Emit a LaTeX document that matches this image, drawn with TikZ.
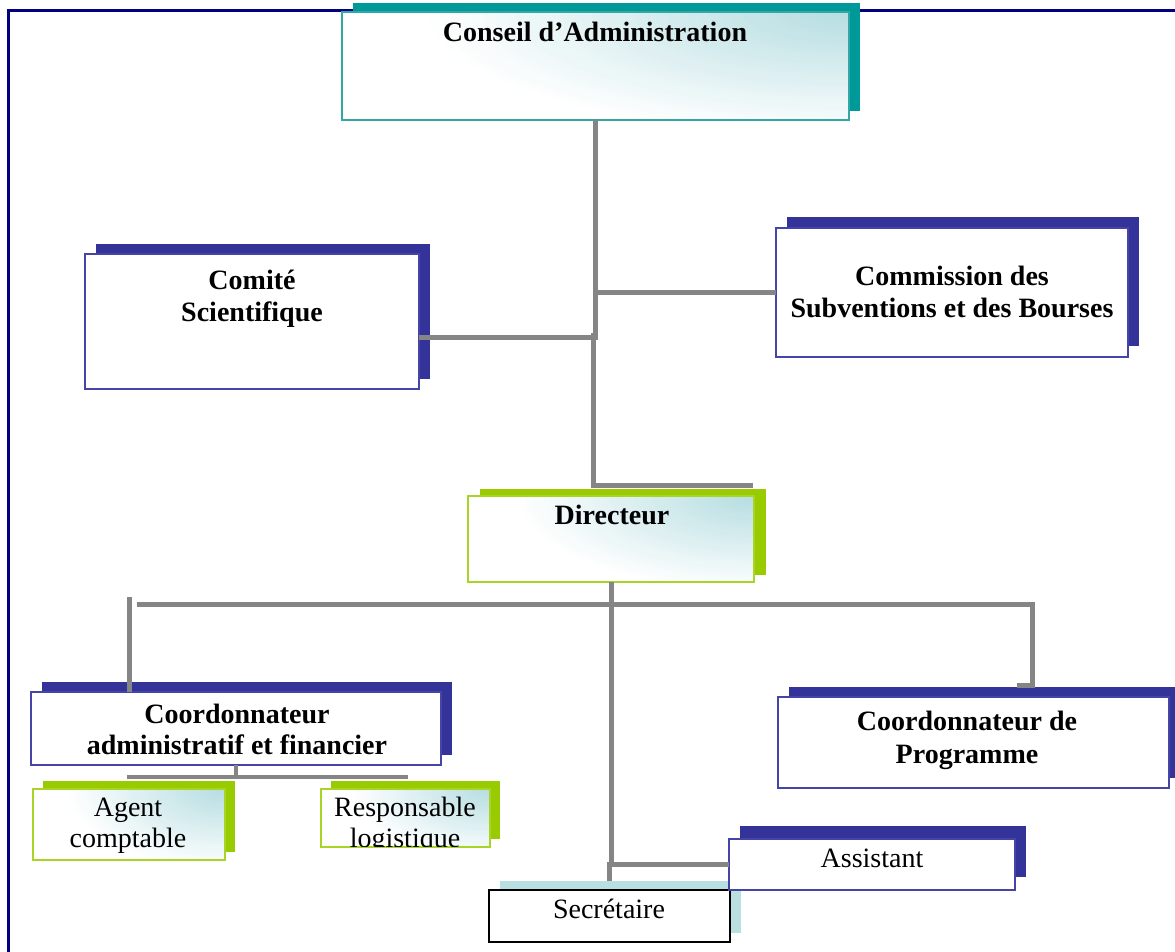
\documentclass[tikz,border=0pt]{standalone}
\usepackage{fontspec}
\setmainfont{Liberation Serif}
\usetikzlibrary{backgrounds}

\definecolor{framenavy}{HTML}{000080}
\definecolor{shadowblue}{HTML}{333399}
\definecolor{edgeblue}{HTML}{4545A8}
\definecolor{tealdark}{HTML}{009999}
\definecolor{tealedge}{HTML}{33A6A6}
\definecolor{limegreen}{HTML}{99CC00}
\definecolor{linkgray}{HTML}{858585}
\definecolor{iceblue}{HTML}{B5DDE1}
\definecolor{paleblue}{HTML}{BADFE3}

\tikzset{
  orgbox/.style={draw, line width=1.5pt, fill=white, inner sep=0pt, outer sep=0pt, anchor=north west},
  navybox/.style={orgbox, draw=edgeblue},
  tealbox/.style={orgbox, draw=tealedge},
  limebox/.style={orgbox, draw=limegreen!85!white},
  plainbox/.style={orgbox, draw=black},
  % soft glow from the top right corner, built from nested ellipses
  gradfill/.style 2 args={path picture={
      \foreach \i in {0,...,39}{
        \pgfmathsetmacro\fr{1-\i/40}
        \pgfmathsetmacro\pc{100*(1-\fr)}
        \fill[iceblue!\pc!white] (path picture bounding box.north east)
          ellipse [x radius=\fr*#1, y radius=\fr*#2];}}},
  plaintxt/.style={font=\fontsize{28}{32}\selectfont, anchor=base, inner sep=0pt},
  boldtxt/.style={font=\fontsize{28}{32}\selectfont\bfseries, anchor=base, inner sep=0pt},
  link/.style={draw=linkgray, line width=5pt},
  thinlink/.style={draw=linkgray, line width=4pt},
}

% solid offset shadow behind a box
\newcommand\boxshadow[4]{%
  \fill[#4] ([shift={(#2pt,#3pt)}]#1.south west) rectangle ([shift={(#2pt,#3pt)}]#1.north east);}

\begin{document}
\begin{tikzpicture}[x=1pt, y=-1pt]
\useasboundingbox (0,0) rectangle (1175,952);

% ---------- boxes ----------
\node[tealbox, gradfill={430pt}{125pt}, minimum width=507pt, minimum height=108pt] (conseil) at (342,12) {};
\node[navybox, minimum width=334pt, minimum height=135pt] (comite) at (85,254) {};
\node[navybox, minimum width=352pt, minimum height=129pt] (commission) at (776,228) {};
\node[limebox, gradfill={240pt}{95pt}, minimum width=286pt, minimum height=86pt] (directeur) at (468,496) {};
\node[navybox, minimum width=410pt, minimum height=73pt] (coordadm) at (31,692) {};
\node[navybox, minimum width=391pt, minimum height=91pt] (coordprog) at (778,697) {};
\node[limebox, gradfill={160pt}{80pt}, minimum width=192pt, minimum height=71pt] (agent) at (33,789) {};
\node[limebox, gradfill={140pt}{70pt}, minimum width=169pt, minimum height=58pt] (resp) at (321,789) {};
\node[plainbox, minimum width=241pt, minimum height=52pt] (secretaire) at (489,890) {};
\node[navybox, minimum width=286pt, minimum height=51pt] (assistant) at (729,839) {};

% ---------- frame and shadows ----------
\begin{scope}[on background layer]
  \draw[framenavy, line width=3pt] (8,952) -- (8,11) -- (1175,11);
  \boxshadow{conseil}{11}{9}{tealdark}
  \boxshadow{comite}{11}{10}{shadowblue}
  \boxshadow{commission}{11}{11}{shadowblue}
  \boxshadow{directeur}{12}{7}{limegreen}
  \boxshadow{coordadm}{11}{10}{shadowblue}
  \boxshadow{coordprog}{11}{10}{shadowblue}
  \boxshadow{agent}{10}{8}{limegreen}
  \boxshadow{resp}{10}{8}{limegreen}
  \boxshadow{secretaire}{11}{9}{paleblue}
  \boxshadow{assistant}{11}{13}{shadowblue}
\end{scope}

% ---------- texts ----------
\node[boldtxt] (conseil-t) at (595,42) {Conseil d’Administration};
\node[boldtxt] (comite-t1) at (252,289) {Comité};
\node[boldtxt] (comite-t2) at (252,321) {Scientifique};
\node[boldtxt] (commission-t1) at (952,285) {Commission des};
\node[boldtxt] (commission-t2) at (952,317) {Subventions et des Bourses};
\node[boldtxt] (directeur-t) at (612,524) {Directeur};
\node[boldtxt] (coordadm-t1) at (237,723) {Coordonnateur};
\node[boldtxt] (coordadm-t2) at (237,754) {administratif et financier};
\node[boldtxt] (coordprog-t1) at (967,730) {Coordonnateur de};
\node[boldtxt] (coordprog-t2) at (967,763) {Programme};
\node[plaintxt] (agent-t1) at (128,816) {Agent};
\node[plaintxt] (agent-t2) at (128,847) {comptable};
\node[plaintxt] (resp-t1) at (405,816) {Responsable};
\begin{scope}
  \clip (resp.north west) rectangle ([yshift=1pt]resp.south east);
  \node[plaintxt] (resp-t2) at (405,847) {logistique};
\end{scope}
\node[plaintxt] (assistant-t) at (872,867) {Assistant};
\node[plaintxt] (secretaire-t) at (609,918) {Secrétaire};

% ---------- connectors ----------
\coordinate (jComm) at (596,292);
\coordinate (jComite) at (596,337);
\coordinate (jLow) at (593,333);
\coordinate (jBend) at (593,485);
\coordinate (jEnd) at (753,485);
\draw[link] (conseil.south) -- (conseil.south |- 0,340);
\draw[link] (jComm) -- (commission.west |- jComm);
\draw[link] (comite.east |- jComite) -- (jComite);
\draw[link] (jLow) -- (jBend) -- (jEnd);

\coordinate (busL) at (137,604);
\coordinate (busR) at (1035,604);
\coordinate (jSec) at (611,864);
\coordinate (leftTop) at (129,597);
\coordinate (rightTop) at (1032,602);
\coordinate (rightFoot) at (1032,685);
\coordinate (rightHook) at (1017,685);
\draw[link] (directeur.south) -- (jSec);
\draw[link] (busL) -- (busR);
\draw[link] (rightTop) -- (rightFoot) -- (rightHook);
\draw[link] (leftTop) -- (leftTop |- coordadm.north);
\draw[link] (jSec) -- (assistant.west |- jSec);
\draw[link] (609,862) -- (609,881);

\coordinate (subL) at (127,777);
\coordinate (subR) at (408,777);
\draw[thinlink] (coordadm.south) -- (coordadm.south |- subL);
\draw[thinlink] (subL) -- (subR);
\end{tikzpicture}
\end{document}
